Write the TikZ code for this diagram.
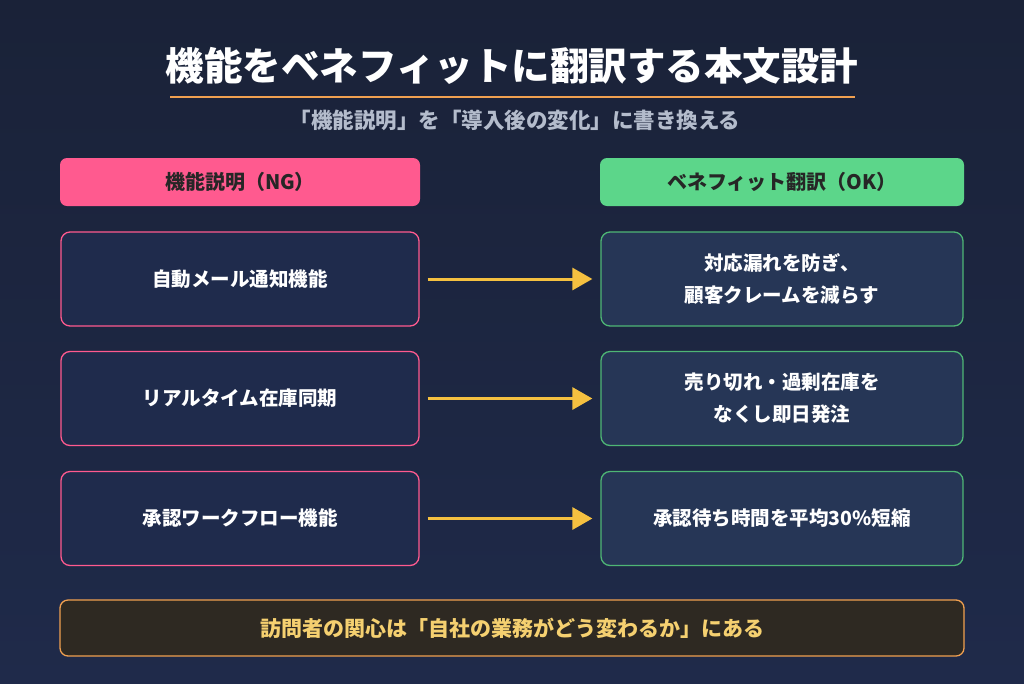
\documentclass[tikz,border=0pt]{standalone}
\usepackage{fontspec}
\setmainfont{Noto Sans CJK JP}
\usetikzlibrary{arrows.meta}
\definecolor{bgtop}{HTML}{1A2238}
\definecolor{bgbot}{HTML}{1F2A4A}
\definecolor{pinkc}{HTML}{FF5A8F}
\definecolor{greenc}{HTML}{5CD68A}
\definecolor{lfill}{HTML}{1F2B4C}
\definecolor{rfill}{HTML}{263656}
\definecolor{orangec}{HTML}{F0A050}
\definecolor{yellowc}{HTML}{F5C040}
\definecolor{subc}{HTML}{B4BCCC}
\definecolor{btmfill}{HTML}{2E2922}
\definecolor{btmtext}{HTML}{F5D070}
\tikzset{
 hdr/.style={rounded corners=7pt,minimum width=360pt,minimum height=48pt,font=\bfseries\fontsize{20}{24}\selectfont,text=black!85},
 lbox/.style={draw=pinkc,line width=1.3pt,fill=lfill,rounded corners=9pt,minimum width=358pt,minimum height=94pt,text=white,font=\bfseries\fontsize{19.5}{24}\selectfont},
 rbox/.style={draw=greenc!85!black,line width=1.3pt,fill=rfill,rounded corners=9pt,minimum width=362pt,minimum height=94pt,text=white,font=\bfseries\fontsize{19.5}{32}\selectfont,align=center},
 arr/.style={yellowc,line width=3pt,-{Triangle[length=20pt,width=22pt]}}
}
\begin{document}
\begin{tikzpicture}[x=1pt,y=-1pt]
\shade[top color=bgtop,bottom color=bgbot] (0,0) rectangle (1024,683);
\useasboundingbox (0,0) rectangle (1024,683);
\node[text=white,font=\bfseries\fontsize{38.5}{44}\selectfont] (title) at (512,66) {機能をベネフィットに翻訳する本文設計};
\draw[orangec,line width=2.5pt] (170,97) -- (855,97);
\node[text=subc,font=\bfseries\fontsize{21.5}{26}\selectfont] (sub) at (515,120) {「機能説明」を「導入後の変化」に書き換える};
\node[hdr,fill=pinkc] (hl) at (240,182) {機能説明（NG）};
\node[hdr,fill=greenc,minimum width=364pt] (hr) at (782,182) {ベネフィット翻訳（OK）};
\node[lbox] (l1) at (240,279) {自動メール通知機能};
\node[lbox] (l2) at (240,398.5) {リアルタイム在庫同期};
\node[lbox] (l3) at (240,518.5) {承認ワークフロー機能};
\node[rbox] (r1) at (782,279) {対応漏れを防ぎ、\\顧客クレームを減らす};
\node[rbox] (r2) at (782,398.5) {売り切れ・過剰在庫を\\なくし即日発注};
\node[rbox] (r3) at (782,518.5) {承認待ち時間を平均30\%短縮};
\foreach \i in {1,2,3}{\draw[arr] ([xshift=8pt]l\i.east) -- ([xshift=-8pt]r\i.west);}
\node[draw=orangec,line width=1.3pt,fill=btmfill,rounded corners=8pt,minimum width=904pt,minimum height=56pt,text=btmtext,font=\bfseries\fontsize{21}{24}\selectfont] (btm) at (512,628) {訪問者の関心は「自社の業務がどう変わるか」にある};
\end{tikzpicture}
\end{document}
